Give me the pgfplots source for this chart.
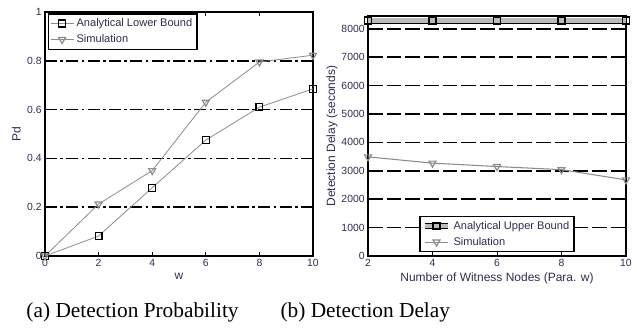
\documentclass[border=0pt]{standalone}
\usepackage{fontspec}
\setmainfont{Liberation Serif}
\newfontfamily\arial{Liberation Sans}
\usepackage{pgfplots}
\pgfplotsset{compat=1.18}
\definecolor{txt}{RGB}{45,45,80}
\definecolor{lgray}{RGB}{140,140,140}
\begin{document}
\begin{tikzpicture}
\useasboundingbox (0,0) rectangle (477.75pt,249.75pt);
\pgfplotsset{
  every axis/.append style={
    scale only axis, anchor=south west,
    /pgf/number format/assume math mode=true,
    tick label style={font=\arial\fontsize{7.8}{8}\selectfont, text=txt},
    label style={font=\arial\fontsize{9}{10}\selectfont, text=txt},
    axis line style={line width=1pt},
    tick align=inside, tick style={black, line width=0.6pt},
    major tick length=3pt,
    xticklabel style={yshift=1pt},
    yticklabel style={xshift=1pt},
    legend style={font=\arial\fontsize{8.3}{9}\selectfont, text=txt, draw=black, line width=1pt, inner sep=1.5pt, row sep=0.5pt},
    legend cell align=left,
    clip=false,
  }
}
% Left axis
\begin{axis}[
  at={(33.75pt,57.75pt)}, width=201pt, height=183pt,
  xmin=0, xmax=10, ymin=0, ymax=1,
  xtick={0,2,...,10}, ytick={0,0.2,0.4,0.6,0.8,1},
  yticklabels={0,0.2,0.4,0.6,0.8,1},
  xlabel={w}, ylabel={Pd},
  xlabel style={yshift=2pt},
  ylabel style={yshift=-2pt},
  ymajorgrids, grid style={black, line width=1.2pt, dash pattern=on 9pt off 2.5pt on 2pt off 2.5pt},
  legend style={at={(0.01,0.995)}, anchor=north west},
]
\addplot[lgray, line width=0.6pt, mark=square, mark size=2.6pt, mark options={black, line width=0.9pt, fill=white, solid}]
 coordinates {(0,0) (2,0.082) (4,0.28) (6,0.475) (8,0.61) (10,0.685)};
\addlegendentry{Analytical Lower Bound}
\addplot[lgray, line width=0.6pt, mark=triangle, mark size=3pt, mark options={lgray, line width=0.9pt, fill=white, solid, rotate=180}]
 coordinates {(0,0) (2,0.213) (4,0.35) (6,0.63) (8,0.795) (10,0.823)};
\addlegendentry{Simulation}
\end{axis}
% Right axis
\begin{axis}[
  at={(276pt,57.75pt)}, width=193.5pt, height=180pt,
  xmin=2, xmax=10, ymin=0, ymax=8450,
  xtick={2,4,...,10}, ytick={0,1000,...,8000},
  scaled y ticks=false,
  yticklabel style={/pgf/number format/1000 sep={}},
  xlabel={Number of Witness Nodes (Para. w)}, ylabel={Detection Delay (seconds)},
  xlabel style={yshift=2pt},
  ylabel style={yshift=-4pt},
  ymajorgrids, grid style={black, line width=1.2pt, dash pattern=on 11pt off 3pt},
  legend style={at={(0.5,0.015)}, anchor=south},
]
\addplot[black, line width=0.5pt, double=lgray!60, double distance=3.5pt, mark=square, mark size=2.6pt, mark options={black, line width=0.9pt, fill=white, solid}]
 coordinates {(2,8290) (4,8290) (6,8290) (8,8290) (10,8290)};
\addlegendentry{Analytical Upper Bound}
\addplot[lgray, line width=0.8pt, mark=triangle, mark size=3pt, mark options={lgray, line width=0.9pt, fill=white, solid, rotate=180}]
 coordinates {(2,3490) (4,3270) (6,3150) (8,3040) (10,2680)};
\addlegendentry{Simulation}
\end{axis}
\node[font=\fontsize{16}{18}\selectfont] at (99.4pt,15.75pt) {(a) Detection Probability};
\node[font=\fontsize{16}{18}\selectfont] at (274pt,15.75pt) {(b) Detection Delay};
\end{tikzpicture}
\end{document}
